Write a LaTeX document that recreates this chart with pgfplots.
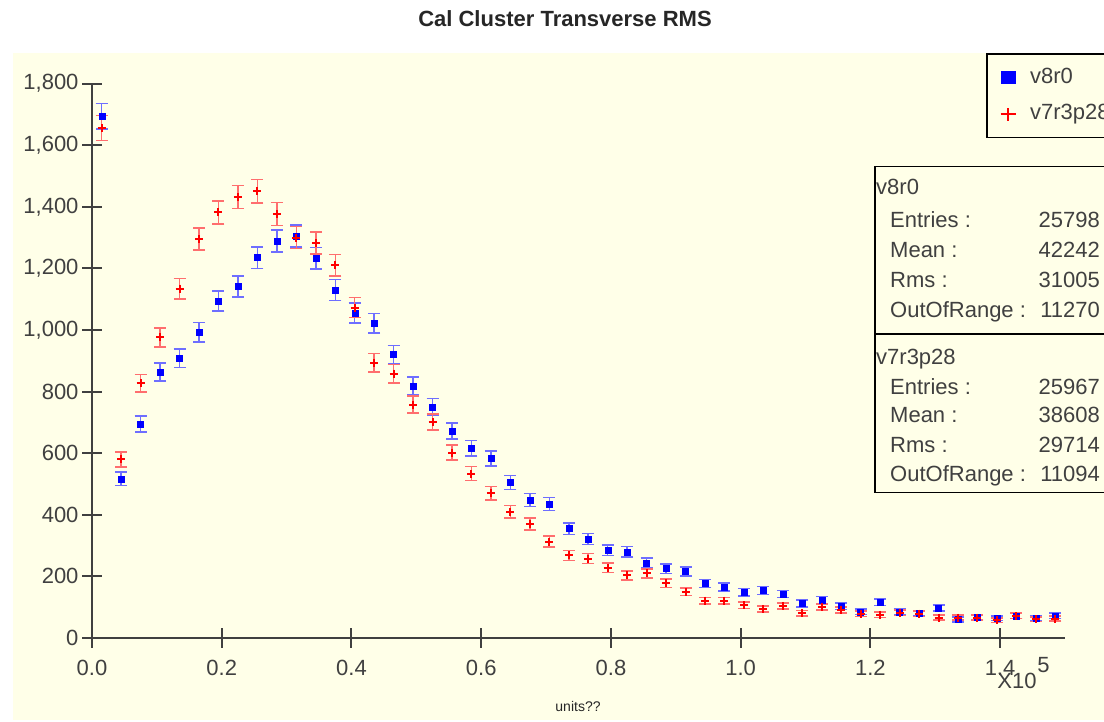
\documentclass[border=0pt]{standalone}
\usepackage{fontspec}
\setmainfont{Liberation Sans}
\usepackage{pgfplots}
\pgfplotsset{compat=1.18}
\usepackage{pgfplotstable}
\definecolor{panel}{RGB}{255,255,232}
\definecolor{axgray}{RGB}{64,64,64}
\definecolor{errblue}{RGB}{110,110,255}
\definecolor{errred}{RGB}{255,110,110}

\pgfplotstableread{
x y e
1500 1694 41.2
4500 517 22.7
7500 695 26.4
10500 864 29.4
13500 908 30.1
16500 993 31.5
19500 1094 33.1
22500 1141 33.8
25500 1235 35.1
28500 1289 35.9
31500 1305 36.1
34500 1233 35.1
37500 1130 33.6
40500 1055 32.5
43500 1022 32.0
46500 920 30.3
49500 819 28.6
52500 750 27.4
55500 672 25.9
58500 616 24.8
61500 583 24.1
64500 505 22.5
67500 448 21.2
70500 435 20.9
73500 355 18.8
76500 321 17.9
79500 285 16.9
82500 280 16.7
85500 244 15.6
88500 225 15.0
91500 216 14.7
94500 177 13.3
97500 166 12.9
100500 149 12.2
103500 154 12.4
106500 143 12.0
109500 112 10.6
112500 123 11.1
115500 103 10.1
118500 85 9.2
121500 116 10.8
124500 85 9.2
127500 80 8.9
130500 98 9.9
133500 60 7.7
136500 68 8.2
139500 64 8.0
142500 72 8.5
145500 63 7.9
148500 72 8.5
}\bluedata

\pgfplotstableread{
x y e
1500 1656 40.7
4500 580 24.1
7500 827 28.8
10500 976 31.2
13500 1134 33.7
16500 1295 36.0
19500 1382 37.2
22500 1432 37.8
25500 1451 38.1
28500 1377 37.1
31500 1300 36.1
34500 1282 35.8
37500 1210 34.8
40500 1073 32.8
43500 894 29.9
46500 858 29.3
49500 758 27.5
52500 701 26.5
55500 602 24.5
58500 534 23.1
61500 470 21.7
64500 410 20.2
67500 370 19.2
70500 313 17.7
73500 268 16.4
76500 258 16.1
79500 228 15.1
82500 203 14.2
85500 210 14.5
88500 178 13.3
91500 150 12.2
94500 121 11.0
97500 121 11.0
100500 106 10.3
103500 94 9.7
106500 104 10.2
109500 80 8.9
112500 101 10.0
115500 91 9.5
118500 79 8.9
121500 76 8.7
124500 82 9.1
127500 79 8.9
130500 66 8.1
133500 66 8.1
136500 66 8.1
139500 58 7.6
142500 72 8.5
145500 61 7.8
148500 63 7.9
}\reddata

\begin{document}
\begin{tikzpicture}[x=1bp,y=1bp]
\useasboundingbox (0,0) rectangle (1104,722);
\fill[white] (0,0) rectangle (1104,722);
\fill[panel] (12.7,2) rectangle (1104,669.3);
\node[font=\bfseries\fontsize{22bp}{24bp}\selectfont, text=black!85] at (565,703) {Cal Cluster Transverse RMS};

\begin{axis}[
  at={(92bp,84bp)}, anchor=south west,
  scale only axis, width=973bp, height=554.4bp,
  xmin=0, xmax=150000, ymin=0, ymax=1800,
  axis lines*=left,
  axis line style={axgray, line width=2bp},
  tick style={axgray, line width=2bp},
  tick align=center, major tick length=20bp,
  xtick={0,20000,40000,60000,80000,100000,120000,140000},
  xticklabels={0.0,0.2,0.4,0.6,0.8,1.0,1.2,1.4},
  scaled x ticks=false,
  ytick={0,200,...,1800},
  /pgf/number format/assume math mode=true,
  yticklabel style={/pgf/number format/1000 sep={,}},
  xticklabel style={yshift=-9bp},
  ticklabel style={font=\fontsize{22bp}{24bp}\selectfont, text=axgray},
  legend style={at={(0.9188,1.0547)}, anchor=north west, draw=black, line width=1.5bp,
    fill=panel, font=\fontsize{22bp}{24bp}\selectfont, text=axgray,
    inner xsep=13bp, inner ysep=13bp, column sep=13.7bp, row sep=15.7bp,
    nodes={inner sep=0pt, text height=16bp, text depth=5bp}},
  legend cell align=left,
]
\addplot[only marks, mark=square*, mark size=3bp, blue,
  legend image code/.code={\fill[blue] (-6.7bp,-5.8bp) rectangle (6.7bp,5.8bp);},
  error bars/.cd, y dir=both, y explicit,
  error bar style={line width=1.5bp, errblue},
  error mark options={rotate=90, errblue, mark size=6bp, line width=1.5bp}]
  table[x=x, y=y, y error=e] {\bluedata};
\addlegendentry{v8r0}
\addplot[only marks, mark=+, mark size=4bp, red, line width=2bp,
  legend image code/.code={\draw[red, line width=1.6bp] (-7.5bp,0) -- (7.5bp,0) (0,-6.5bp) -- (0,6.5bp);},
  error bars/.cd, y dir=both, y explicit,
  error bar style={line width=1.5bp, errred},
  error mark options={rotate=90, errred, mark size=6bp, line width=1.5bp}]
  table[x=x, y=y, y error=e] {\reddata};
\addlegendentry{v7r3p28}
\end{axis}

% stats box
\draw[black, line width=1.5bp, fill=panel] (875,555.3) rectangle (1130,229.7);
\draw[black, line width=1.5bp] (875,388) -- (1130,388);
\tikzset{st/.style={font=\fontsize{22bp}{24bp}\selectfont, text=axgray, inner sep=0pt, text height=16bp, text depth=0bp}}
\node[st, anchor=west] at (876,535.3) {v8r0};
\node[st, anchor=west] at (890,502) {Entries :};
\node[st, anchor=west] at (890,472) {Mean :};
\node[st, anchor=west] at (890,442) {Rms :};
\node[st, anchor=west] at (890,412) {OutOfRange :};
\node[st, anchor=east] at (1100,502) {25798};
\node[st, anchor=east] at (1100,472) {42242};
\node[st, anchor=east] at (1100,442) {31005};
\node[st, anchor=east] at (1100,412) {11270};
\node[st, anchor=west] at (876,365.3) {v7r3p28};
\node[st, anchor=west] at (890,335.3) {Entries :};
\node[st, anchor=west] at (890,307) {Mean :};
\node[st, anchor=west] at (890,277) {Rms :};
\node[st, anchor=west] at (890,248.7) {OutOfRange :};
\node[st, anchor=east] at (1100,335.3) {25967};
\node[st, anchor=east] at (1100,307) {38608};
\node[st, anchor=east] at (1100,277) {29714};
\node[st, anchor=east] at (1100,248.7) {11094};

\node[font=\fontsize{22bp}{24bp}\selectfont, text=axgray, inner sep=0pt] at (1017,41) {X10};
\node[font=\fontsize{22bp}{24bp}\selectfont, text=axgray, inner sep=0pt] at (1043.5,56.5) {5};
\node[font=\fontsize{14bp}{16bp}\selectfont, text=black!85, inner sep=0pt] at (578,15.5) {units??};
\end{tikzpicture}
\end{document}
